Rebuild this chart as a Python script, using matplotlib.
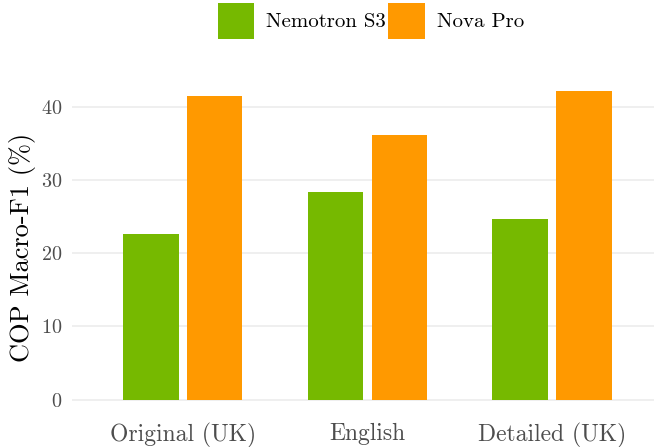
import matplotlib.pyplot as plt
import numpy as np

# data
groups = ['Original (UK)', 'English', 'Detailed (UK)']
models = ['Nemotron S3', 'Nova Pro']
nemotron = [22.6, 28.4, 24.7]
nova = [41.5, 36.1, 42.1]
colors = ['#76b900', '#ff9900']

plt.rcParams['font.family'] = ['cmr10', 'DejaVu Serif']
plt.rcParams['axes.formatter.use_mathtext'] = True

fig = plt.figure(figsize=(6.54, 4.47), dpi=100)
ax = fig.add_axes([72/654, 1-415/447, 1-72/654, (415-76)/447])

x = np.arange(1, len(groups)+1)
w = 0.30
off = 0.173
ax.bar(x-off, nemotron, w, color=colors[0], label=models[0], zorder=2)
ax.bar(x+off, nova, w, color=colors[1], label=models[1], zorder=2)

ax.set_xlim(0.4, 3.553)
ax.set_ylim(-2.1, 44.2)
ax.set_yticks([0, 10, 20, 30, 40])
ax.set_xticks(x)
ax.set_xticklabels(groups)
ax.grid(axis='y', color='#ebebeb', linewidth=1.1, zorder=0)
ax.tick_params(length=0, labelcolor='#4d4d4d')
ax.tick_params(axis='x', pad=5.5, labelsize=17)
ax.tick_params(axis='y', pad=7, labelsize=14.5)
for s in ax.spines.values():
    s.set_visible(False)
ax.set_ylabel('COP Macro-F1 (%)', fontsize=19, va='center')
ax.yaxis.set_label_coords(-(72-23)/582, 0.494)

fig.legend(loc='upper center', bbox_to_anchor=(371/654, 0.998), ncol=2,
           frameon=False, fontsize=15, handlelength=1.75, handleheight=2.28,
           handletextpad=0.6, columnspacing=0.1, borderpad=0.1,
           borderaxespad=0)

fig.savefig('out.png', dpi=100)
